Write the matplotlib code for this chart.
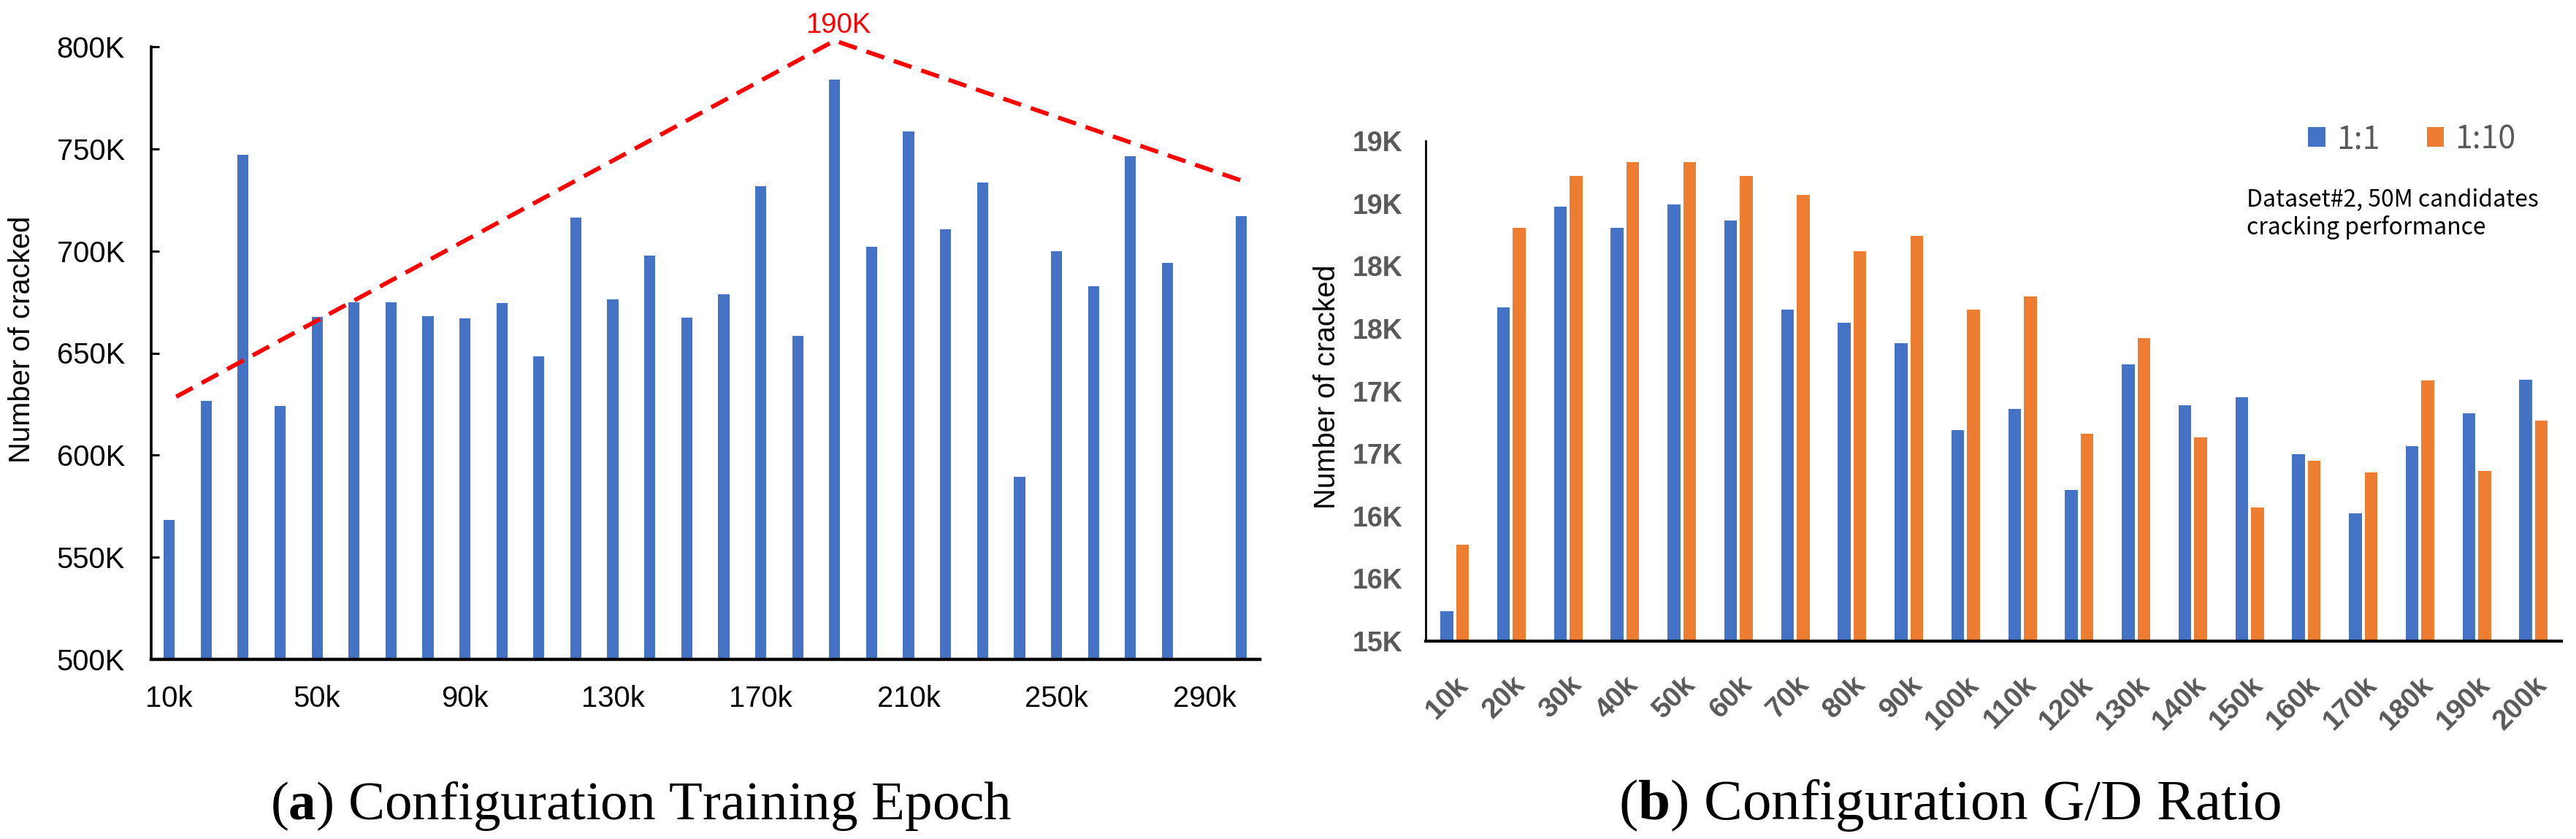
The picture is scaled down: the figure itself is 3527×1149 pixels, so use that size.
import numpy as np
import matplotlib
matplotlib.use("Agg")
import matplotlib.pyplot as plt
from matplotlib.ticker import FixedLocator, FixedFormatter

# ---------------- data ----------------
# (a) training epoch
epoch_labels = [f"{v}k" for v in range(10, 301, 10)]
epoch_cracked_k = [568.4, 626.6, 747.0, 624.0, 667.8, 675.0, 675.0, 668.0, 667.0, 674.6,
                   648.4, 716.3, 676.4, 697.8, 667.2, 678.9, 731.6, 658.3, 783.9, 702.0,
                   758.7, 710.6, 733.4, 589.5, 700.0, 682.6, 746.2, 694.3, np.nan, 717.0]
epoch_tick_labels = ["10k", "50k", "90k", "130k", "170k", "210k", "250k", "290k"]
epoch_ytick_values = [500, 550, 600, 650, 700, 750, 800]
epoch_ytick_labels = ["500K", "550K", "600K", "650K", "700K", "750K", "800K"]
trend_x = [0.19, 18.0, 29.2]
trend_y = [628.6, 803.0, 733.2]
peak_label = "190K"

# (b) G/D ratio
ratio_labels = [f"{v}k" for v in range(10, 201, 10)]
ratio_1_1 = [15237, 17668, 18472, 18303, 18494, 18361, 17653, 17548, 17383, 16690,
             16855, 16210, 17216, 16884, 16953, 16494, 16019, 16558, 16824, 17093]
ratio_1_10 = [15770, 18303, 18717, 18833, 18833, 18717, 18570, 18118, 18241, 17653,
              17757, 16661, 17425, 16628, 16071, 16442, 16349, 17087, 16361, 16766]
ratio_ytick_values = [15000, 15500, 16000, 16500, 17000, 17500, 18000, 18500, 19000]
ratio_ytick_labels = ["15K", "16K", "16K", "17K", "17K", "18K", "18K", "19K", "19K"]
series_names = ["1:1", "1:10"]

# ---------------- style ----------------
plt.rcParams['font.family'] = ['Liberation Sans', 'DejaVu Sans']
plt.rcParams['mathtext.fontset'] = 'custom'
plt.rcParams['mathtext.rm'] = 'Liberation Serif'
plt.rcParams['mathtext.bf'] = 'Liberation Serif:bold'

BLUE = "#4472C4"
ORANGE = "#ED7D31"
GRAY = "#595959"

W, H = 3527, 1149
DPI = 100
fig = plt.figure(figsize=(W / DPI, H / DPI), dpi=DPI)

def px_axes(x0, y0, x1, y1):
    return fig.add_axes([x0 / W, 1 - y1 / H, (x1 - x0) / W, (y1 - y0) / H])

# ---------------- panel (a) ----------------
ax1 = px_axes(207, 64, 1725, 903)
xa = np.arange(len(epoch_labels))
ax1.bar(xa, epoch_cracked_k, width=0.3, color=BLUE, zorder=2)
ax1.set_xlim(-0.486, 29.5)
ax1.set_ylim(500, 800)
ax1.plot(trend_x, trend_y, color="#FF0000", lw=4.2, linestyle=(0, (4.4, 2.4)),
         clip_on=False, zorder=3, dash_capstyle='butt')
ax1.text(18.1, 810.5, peak_label, color="#FF0000", fontsize=27.5, ha='center', va='center')

for s in ['top', 'right']:
    ax1.spines[s].set_visible(False)
ax1.spines['left'].set_linewidth(2.6)
ax1.spines['bottom'].set_linewidth(3.2)
ax1.yaxis.set_major_locator(FixedLocator(epoch_ytick_values))
ax1.yaxis.set_major_formatter(FixedFormatter(epoch_ytick_labels))
ax1.tick_params(axis='y', direction='in', length=8, width=2.2, labelsize=28.8, pad=26)
tick_pos = [epoch_labels.index(t) for t in epoch_tick_labels]
ax1.set_xticks(tick_pos)
ax1.set_xticklabels(epoch_tick_labels)
ax1.tick_params(axis='x', length=0, labelsize=28.8, pad=25)
ax1.set_ylabel("Number of cracked", fontsize=28.8)
ax1.yaxis.set_label_coords(-0.104, 0.522)

# ---------------- panel (b) ----------------
ax2 = px_axes(1952, 193, 3507, 878)
xb = np.arange(len(ratio_labels))
bw = 0.225
off = 0.1375
b1 = ax2.bar(xb - off, ratio_1_1, width=bw, color=BLUE, label=series_names[0], zorder=2)
b2 = ax2.bar(xb + off, ratio_1_10, width=bw, color=ORANGE, label=series_names[1], zorder=2)
ax2.set_xlim(-0.51, 19.49)
ax2.set_ylim(15000, 19000)
for s in ['top', 'right']:
    ax2.spines[s].set_visible(False)
ax2.spines['left'].set_linewidth(2.0)
ax2.spines['bottom'].set_linewidth(3.0)
ax2.yaxis.set_major_locator(FixedLocator(ratio_ytick_values))
ax2.yaxis.set_major_formatter(FixedFormatter(ratio_ytick_labels))
ax2.tick_params(axis='y', length=0, labelsize=27, labelcolor=GRAY, pad=23)
for lab in ax2.get_yticklabels():
    lab.set_fontweight('bold')
ax2.set_xticks(xb)
ax2.set_xticklabels(ratio_labels, rotation=45, ha='right', rotation_mode='anchor',
                    fontsize=28, fontweight='bold', color=GRAY)
ax2.tick_params(axis='x', length=0, pad=30)
ax2.set_ylabel("Number of cracked", fontsize=28.5)
ax2.yaxis.set_label_coords(-0.0746, 0.508)

leg = fig.legend(handles=[b1, b2], labels=series_names, loc='center left',
                 bbox_to_anchor=(3160 / W, 1 - 191 / H), ncol=2, frameon=False,
                 prop={'family': ['Noto Sans CJK KR', 'DejaVu Sans'], 'size': 31},
                 handlelength=0.55, handleheight=0.6, handletextpad=0.35,
                 columnspacing=1.5, borderpad=0, borderaxespad=0)
for t in leg.get_texts():
    t.set_color(GRAY)

fig.text(3076 / W, 1 - 258 / H, "Dataset#2, 50M candidates\ncracking performance",
         family=['Noto Sans CJK KR', 'DejaVu Sans'], fontsize=23, ha='left', va='top',
         linespacing=1.2, color='black')

# ---------------- captions ----------------
fig.text(878 / W, 1 - 1122 / H, r"($\mathbf{a}$) Configuration Training Epoch",
         family=['Liberation Serif'], fontsize=54, ha='center', va='baseline')
fig.text(2669 / W, 1 - 1122 / H, r"($\mathbf{b}$) Configuration G/D Ratio",
         family=['Liberation Serif'], fontsize=57, ha='center', va='baseline')

fig.savefig("out.png", dpi=DPI)
